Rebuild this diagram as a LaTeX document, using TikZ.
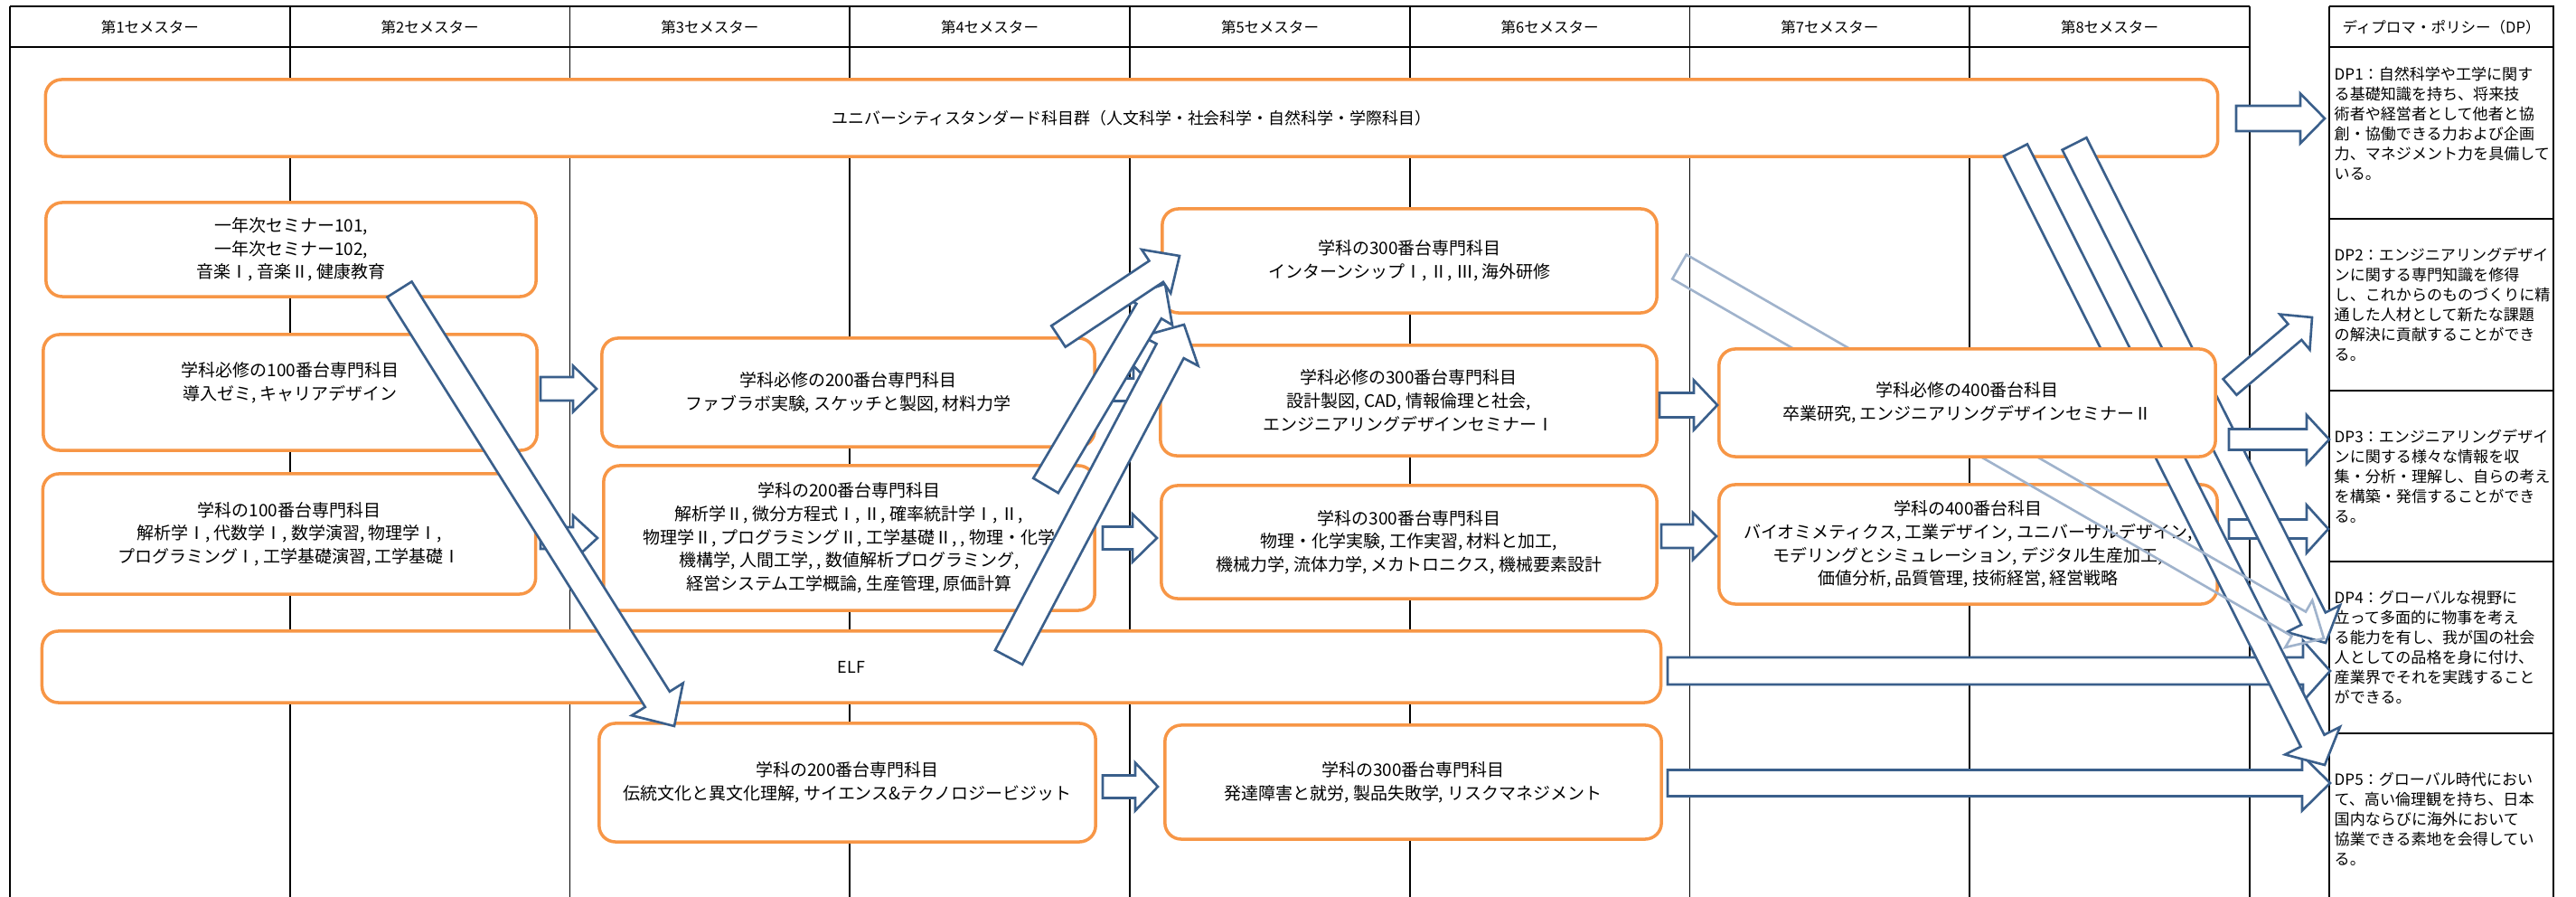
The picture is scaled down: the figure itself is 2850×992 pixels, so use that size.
\documentclass[tikz,border=0pt]{standalone}
\usepackage{fontspec}
\setmainfont{Noto Sans CJK JP}
\usetikzlibrary{calc}

\definecolor{boxorange}{HTML}{F79646}
\definecolor{arrowblue}{HTML}{3A5F8B}
\definecolor{arrowfaint}{HTML}{A0B3CC}

\newcommand{\bxfont}{\fontsize{5.4pt}{7.3pt}\selectfont}
\newcommand{\bandfont}{\fontsize{5.1pt}{6.1pt}\selectfont}
\newcommand{\hdfont}{\fontsize{4.7pt}{5.6pt}\selectfont}
\newcommand{\dpfont}{\fontsize{4.85pt}{6.26pt}\selectfont}

%block arrow: #2 tail, #3 tip, #4 half shaft, #5 half head, #6 head length
\newcommand{\blockarrow}[6][]{%
  \coordinate (ba) at ($(#3)!#6!(#2)$);
  \draw[blockarr,#1] ($(#2)!#4!90:(#3)$) -- ($(ba)!#4!-90:(#2)$) -- ($(ba)!#5!-90:(#2)$)
    -- (#3) -- ($(ba)!#5!90:(#2)$) -- ($(ba)!#4!90:(#2)$) -- ($(#2)!#4!-90:(#3)$) -- cycle;}

\begin{document}
\begin{tikzpicture}
		[x=0.01cm,y=-0.01cm,
		 course/.style={draw=boxorange,line width=1pt,rounded corners=0.18cm,fill=white,
		   align=center,font=\bxfont,inner sep=0pt},
		 band/.style={course,font=\bandfont},
		 blockarr/.style={draw=arrowblue,line width=0.75pt,fill=white,line join=miter},
		 faintarr/.style={draw=arrowfaint,fill=none},
		 tableline/.style={black,line width=0.45pt},
		 tableedge/.style={black,line width=0.75pt},
		 semhead/.style={font=\hdfont,inner sep=0pt},
		 dptext/.style={font=\dpfont,align=left,text width=2.45cm,inner sep=0pt,anchor=west}]
	\useasboundingbox (0,0) rectangle (2850,992);

	%draw the semester table
	\draw[tableedge] (11,7) -- (2489,7);
	\draw[tableedge] (11,52) -- (2489,52);
	\draw[tableedge] (11,7) -- (11,992);
	\draw[tableline] (320.75,7) -- (320.75,992);
	\draw[tableline] (630.5,7) -- (630.5,992);
	\draw[tableline] (940.25,7) -- (940.25,992);
	\draw[tableline] (1250,7) -- (1250,992);
	\draw[tableline] (1559.75,7) -- (1559.75,992);
	\draw[tableline] (1869.5,7) -- (1869.5,992);
	\draw[tableline] (2179.25,7) -- (2179.25,992);
	\draw[tableedge] (2489,7) -- (2489,992);

	%draw the diploma policy table
	\draw[tableedge] (2577,7) -- (2825,7) -- (2825,992);
	\draw[tableedge] (2577,7) -- (2577,992);
	\draw[tableedge] (2577,52) -- (2825,52);
	\draw[tableedge] (2577,242) -- (2825,242);
	\draw[tableedge] (2577,432) -- (2825,432);
	\draw[tableedge] (2577,621) -- (2825,621);
	\draw[tableedge] (2577,811) -- (2825,811);

	\node (sem1) [semhead] at (166,30) {第1セメスター};
	\node (sem2) [semhead] at (475.6,30) {第2セメスター};
	\node (sem3) [semhead] at (785.4,30) {第3セメスター};
	\node (sem4) [semhead] at (1095,30) {第4セメスター};
	\node (sem5) [semhead] at (1405,30) {第5セメスター};
	\node (sem6) [semhead] at (1714.6,30) {第6セメスター};
	\node (sem7) [semhead] at (2024.4,30) {第7セメスター};
	\node (sem8) [semhead] at (2334,30) {第8セメスター};
	\node (dphead) [semhead] at (2701,30) {ディプロマ・ポリシー（DP）};

	\node (dp1) [dptext] at (2582,137) {DP1：自然科学や工学に関す\\る基礎知識を持ち、将来技\\術者や経営者として他者と協\\創・協働できる力および企画\\力、マネジメント力を具備して\\いる。};
	\node (dp2) [dptext] at (2582,337) {DP2：エンジニアリングデザイ\\ンに関する専門知識を修得\\し、これからのものづくりに精\\通した人材として新たな課題\\の解決に貢献することができ\\る。};
	\node (dp3) [dptext] at (2582,527) {DP3：エンジニアリングデザイ\\ンに関する様々な情報を収\\集・分析・理解し、自らの考え\\を構築・発信することができ\\る。};
	\node (dp4) [dptext] at (2582,716) {DP4：グローバルな視野に\\立って多面的に物事を考え\\る能力を有し、我が国の社会\\人としての品格を身に付け、\\産業界でそれを実践すること\\ができる。};
	\node (dp5) [dptext] at (2582,906) {DP5：グローバル時代におい\\て、高い倫理観を持ち、日本\\国内ならびに海外において\\協業できる素地を会得してい\\る。};

	%draw the course boxes
	\node (univ) [band,minimum width=24.02cm,minimum height=0.85cm] at (1252,130.5) {ユニバーシティスタンダード科目群（人文科学・社会科学・自然科学・学際科目）};
	\node (elf) [band,minimum width=17.9cm,minimum height=0.79cm] at (942,737.5) {ELF};
	\node (sem101) [course,minimum width=5.42cm,minimum height=1.04cm] at (322,276) {一年次セミナー101,\\一年次セミナー102,\\音楽Ⅰ, 音楽Ⅱ, 健康教育};
	\node (req100) [course,minimum width=5.46cm,minimum height=1.28cm] at (321,434) {学科必修の100番台専門科目\\導入ゼミ, キャリアデザイン\\ };
	\node (sub100) [course,minimum width=5.45cm,minimum height=1.33cm] at (320,590.5) {学科の100番台専門科目\\解析学Ⅰ, 代数学Ⅰ, 数学演習, 物理学Ⅰ,\\プログラミングⅠ, 工学基礎演習, 工学基礎Ⅰ};
	\node (req200) [course,minimum width=5.45cm,minimum height=1.2cm] at (938.5,434) {学科必修の200番台専門科目\\ファブラボ実験, スケッチと製図, 材料力学};
	\node (sub200) [course,minimum width=5.43cm,minimum height=1.6cm] at (939.5,595) {学科の200番台専門科目\\解析学Ⅱ, 微分方程式Ⅰ, Ⅱ, 確率統計学Ⅰ, Ⅱ,\\物理学Ⅱ, プログラミングⅡ, 工学基礎Ⅱ, , 物理・化学\\機構学, 人間工学, , 数値解析プログラミング,\\経営システム工学概論, 生産管理, 原価計算};
	\node (cult200) [course,minimum width=5.49cm,minimum height=1.31cm] at (937.5,865.5) {学科の200番台専門科目\\伝統文化と異文化理解, サイエンス\&テクノロジービジット};
	\node (intern) [course,minimum width=5.47cm,minimum height=1.15cm] at (1559.5,288.5) {学科の300番台専門科目\\インターンシップⅠ, Ⅱ, Ⅲ, 海外研修};
	\node (req300) [course,minimum width=5.49cm,minimum height=1.22cm] at (1558.5,443) {学科必修の300番台専門科目\\設計製図, CAD, 情報倫理と社会,\\エンジニアリングデザインセミナーⅠ};
	\node (sub300) [course,minimum width=5.48cm,minimum height=1.25cm] at (1559,599.5) {学科の300番台専門科目\\物理・化学実験, 工作実習, 材料と加工,\\機械力学, 流体力学, メカトロニクス, 機械要素設計};
	\node (risk300) [course,minimum width=5.49cm,minimum height=1.26cm] at (1563.5,865) {学科の300番台専門科目\\発達障害と就労, 製品失敗学, リスクマネジメント};
	\node (sub400) [course,minimum width=5.51cm,minimum height=1.32cm] at (2177.5,602) {学科の400番台科目\\バイオミメティクス, 工業デザイン, ユニバーサルデザイン,\\モデリングとシミュレーション, デジタル生産加工,\\価値分析, 品質管理, 技術経営, 経営戦略};

	%arrow ends
	\coordinate (univ-out) at (2474,131);  \coordinate (dp1-in) at (2572,131);
	\coordinate (req100-out) at (598,430); \coordinate (req200-in) at (660,430);
	\coordinate (sub100-out) at (598,595); \coordinate (sub200-in) at (661,595);
	\coordinate (req200-out) at (1220,431); \coordinate (req300-in) at (1280,431);
	\coordinate (sub200-out) at (1220,595); \coordinate (sub300-in) at (1280,595);
	\coordinate (sub300-out) at (1838,593); \coordinate (sub400-in) at (1899,593);
	\coordinate (cult200-out) at (1220,870); \coordinate (risk300-in) at (1281,870);
	\coordinate (sub400-out) at (2466,585); \coordinate (dp3-in-b) at (2576,585);
	\coordinate (elf-out) at (1845,742); \coordinate (dp4-in) at (2578,742);
	\coordinate (risk300-out) at (1845,866); \coordinate (dp5-in) at (2578,866);

	%draw the straight arrows
	\blockarrow{univ-out}{dp1-in}{0.14cm}{0.275cm}{0.27cm}
	\blockarrow{req100-out}{req200-in}{0.13cm}{0.255cm}{0.26cm}
	\blockarrow{sub100-out}{sub200-in}{0.12cm}{0.25cm}{0.27cm}
	\blockarrow{req200-out}{req300-in}{0.125cm}{0.265cm}{0.26cm}
	\blockarrow{sub200-out}{sub300-in}{0.125cm}{0.265cm}{0.27cm}
	\blockarrow{sub300-out}{sub400-in}{0.13cm}{0.26cm}{0.26cm}
	\blockarrow{cult200-out}{risk300-in}{0.125cm}{0.265cm}{0.25cm}
	\blockarrow{sub400-out}{dp3-in-b}{0.105cm}{0.265cm}{0.24cm}
	\blockarrow{elf-out}{dp4-in}{0.15cm}{0.335cm}{0.30cm}
	\blockarrow{risk300-out}{dp5-in}{0.145cm}{0.305cm}{0.31cm}

	%draw the slanted arrows
	\coordinate (sem101-out) at (442,320); \coordinate (cult200-in) at (746,803);
	\coordinate (elf-up) at (1116,727); \coordinate (intern-in-c) at (1310,359);
	\coordinate (sub200-up) at (1157,537); \coordinate (intern-in-b) at (1289,314);
	\coordinate (req200-up) at (1171,372); \coordinate (intern-in-a) at (1305,283);
	\blockarrow{sem101-out}{cult200-in}{0.16cm}{0.335cm}{0.35cm}
	\blockarrow{elf-up}{intern-in-c}{0.17cm}{0.35cm}{0.33cm}
	\blockarrow{sub200-up}{intern-in-b}{0.16cm}{0.30cm}{0.35cm}
	\blockarrow{req200-up}{intern-in-a}{0.14cm}{0.29cm}{0.31cm}

	\coordinate (univ-down-a) at (2230,166); \coordinate (dp5-in-b) at (2572,846);
	\coordinate (univ-down-b) at (2295,159); \coordinate (dp4-in-b) at (2573,711);
	\coordinate (intern-out) at (1858,295); \coordinate (dp4-in-c) at (2571,706);
	\blockarrow{univ-down-a}{dp5-in-b}{0.145cm}{0.34cm}{0.30cm}
	\blockarrow{univ-down-b}{dp4-in-b}{0.15cm}{0.33cm}{0.30cm}
	\blockarrow[faintarr]{intern-out}{dp4-in-c}{0.155cm}{0.30cm}{0.32cm}

	%the last required box lies over the slanted arrows
	\node (req400) [course,minimum width=5.49cm,minimum height=1.19cm] at (2176.5,445.5) {学科必修の400番台科目\\卒業研究, エンジニアリングデザインセミナーⅡ};

	\coordinate (req300-out) at (1836,448); \coordinate (req400-in) at (1900,448);
	\coordinate (req400-out) at (2466,486); \coordinate (dp3-in) at (2577,486);
	\coordinate (req400-up) at (2467,428); \coordinate (dp2-in) at (2558,351);
	\blockarrow{req300-out}{req400-in}{0.135cm}{0.275cm}{0.26cm}
	\blockarrow{req400-out}{dp3-in}{0.115cm}{0.27cm}{0.25cm}
	\blockarrow{req400-up}{dp2-in}{0.115cm}{0.256cm}{0.25cm}
\end{tikzpicture}
\end{document}
